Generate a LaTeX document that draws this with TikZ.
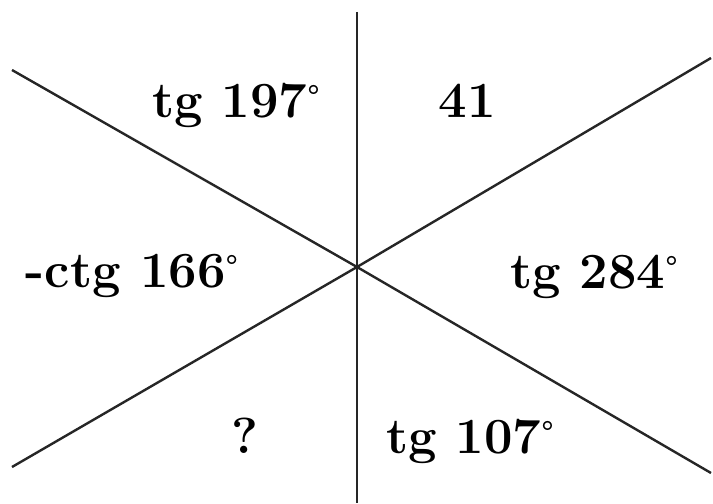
\documentclass[tikz,border=0pt]{standalone}
\usepackage{fontspec}
\usepackage{tikz}

\newcommand{\smalldeg}{\raisebox{9pt}{\fontsize{22}{22}\selectfont °}}

\tikzset{
  axisline/.style={line width=1.8pt, color=black!85},
  valuelabel/.style={font=\fontsize{38}{40}\selectfont\bfseries, inner sep=0pt, anchor=base}
}

\begin{document}
\begin{tikzpicture}[x=0.75pt,y=0.75pt,yscale=-1,xscale=1]
\useasboundingbox (0,0) rectangle (713,503);

% points
\coordinate (O) at (357,267);
\coordinate (vtop) at (357,12);
\coordinate (vbot) at (357,503);
\coordinate (nw) at (12,70);
\coordinate (se) at (711,473);
\coordinate (sw) at (12,467);
\coordinate (ne) at (711,58);

%Straight Lines
\draw [axisline] (vtop) -- (vbot) ;
%Straight Lines
\draw [axisline] (nw) -- (O) -- (se) ;
%Straight Lines
\draw [axisline] (sw) -- (O) -- (ne) ;

% Text Node
\node [valuelabel] (tgA) at (236,117) {tg 197\smalldeg};
% Text Node
\node [valuelabel] (fortyone) at (467,117) {41};
% Text Node
\node [valuelabel] (ctgB) at (132,287) {-ctg 166\smalldeg};
% Text Node
\node [valuelabel] (tgC) at (594,288) {tg 284\smalldeg};
% Text Node
\node [valuelabel] (unknown) at (245,453) {?};
% Text Node
\node [valuelabel] (tgD) at (470,453) {tg 107\smalldeg};

\end{tikzpicture}
\end{document}
